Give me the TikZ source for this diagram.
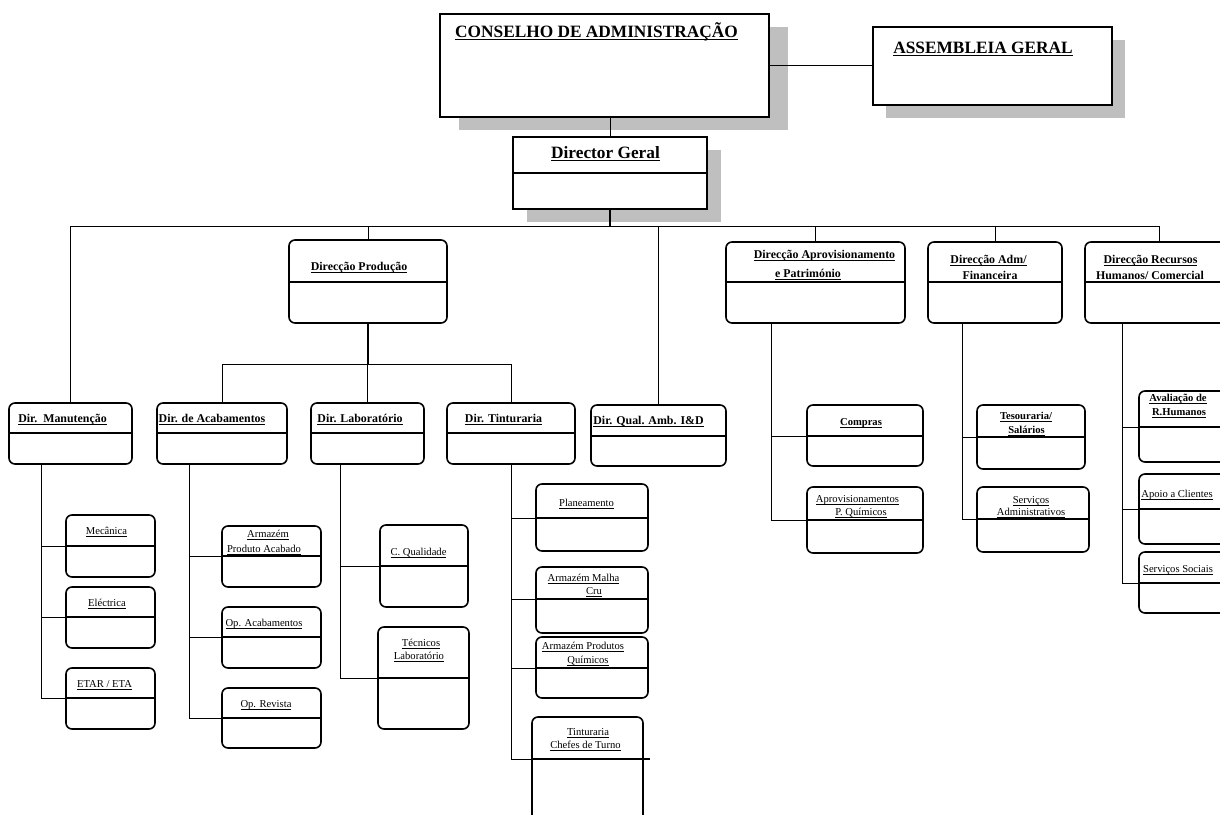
\documentclass[tikz,border=0pt]{standalone}
\usepackage{fontspec}
\setmainfont{Liberation Serif}
\newcommand\ulA[1]{\setbox0\hbox{#1}\leavevmode\rlap{\rule[-3.3pt]{\wd0}{1.8pt}}\box0}
\newcommand\ulB[1]{\setbox0\hbox{#1}\leavevmode\rlap{\rule[-2.8pt]{\wd0}{1.3pt}}\box0}
\newcommand\ulD[1]{\setbox0\hbox{#1}\leavevmode\rlap{\rule[-2.2pt]{\wd0}{0.7pt}}\box0}
\newcommand\topbox[7]{%
  \fill[shad] ({#2+#6},{#3+#7}) rectangle ({#4+#6},{#5+#7});
  \node[tbx, minimum width={(#4-#2)*1pt}, minimum height={(#5-#3)*1pt}] (#1) at ({(#2+#4)/2},{(#3+#5)/2}) {};}
\newcommand\rbox[7]{%
  \node[rbx, minimum width={(#4-#2)*1pt}, minimum height={(#5-#3)*1pt}] (#1) at ({(#2+#4)/2},{(#3+#5)/2}) {};
  \coordinate (#1-d) at (#2,#6);
  \coordinate (#1-e) at (#7,#6);
  \draw[divl] (#1-d) -- (#1-e);}
\newcommand\lb[5]{\node[lbl,#4] (#1) at (#2,#3) {#5};}
\begin{document}
\begin{tikzpicture}[x=1pt,y=-1pt,
  shad/.style={fill=black!25},
  tbx/.style={draw=black, line width=1.6pt, fill=white, inner sep=0pt, outer sep=0pt},
  rbx/.style={draw=black, line width=1.6pt, rounded corners=6pt, inner sep=0pt, outer sep=0pt},
  divl/.style={line width=1.6pt},
  cn/.style={line width=0.8pt},
  cnt/.style={line width=1.6pt},
  lbl/.style={anchor=base, inner sep=0pt, outer sep=0pt},
  fA/.style={font=\fontsize{17.3}{20}\selectfont\bfseries},
  fB/.style={font=\fontsize{11.9}{14}\selectfont\bfseries},
  fC/.style={font=\fontsize{10.6}{13}\selectfont\bfseries},
  fD/.style={font=\fontsize{10.6}{13}\selectfont}]
\useasboundingbox (0,0) rectangle (1220,814);
\clip (0,0) rectangle (1220,814);
\fill[white] (0,0) rectangle (1220,814);

% top boxes
\topbox{cons}{440}{14}{769}{117}{19}{13}
\topbox{asse}{873}{27}{1112}{105}{13}{13}
\topbox{dg}{513}{137}{707}{209}{14}{13}
\coordinate (dg-d) at (513,173);
\coordinate (dg-e) at (707,173);
\draw[divl] (dg-d) -- (dg-e);

% level 1
\rbox{prod}{289}{240}{447}{323}{282}{447}
\rbox{aprov}{726}{242}{905}{323}{282}{905}
\rbox{adm}{928}{242}{1062}{323}{282}{1062}
\rbox{rh}{1085}{242}{1233}{323}{282}{1233}
% level 2
\rbox{manut}{9}{403}{132}{464}{433}{132}
\rbox{acab}{157}{403}{287}{464}{433}{287}
\rbox{lab}{311}{403}{424}{464}{433}{424}
\rbox{tint}{447}{403}{575}{464}{433}{575}
\rbox{qual}{591}{405}{726}{466}{436}{726}
\rbox{compras}{807}{405}{923}{466}{436}{923}
\rbox{aprovq}{807}{487}{923}{553}{520}{923}
\rbox{tes}{977}{405}{1085}{469}{437}{1085}
\rbox{servadm}{977}{487}{1089}{552}{519}{1089}
\rbox{aval}{1139}{391}{1240}{462}{427}{1240}
\rbox{apoio}{1139}{474}{1240}{544}{509}{1240}
\rbox{soc}{1139}{552}{1240}{613}{583}{1240}
% level 3
\rbox{mec}{66}{515}{155}{577}{546}{155}
\rbox{elec}{66}{587}{155}{648}{617}{155}
\rbox{etar}{66}{668}{155}{729}{698}{155}
\rbox{armpa}{222}{526}{321}{587}{556}{321}
\rbox{opac}{222}{607}{321}{668}{637}{321}
\rbox{oprev}{222}{688}{321}{748}{718}{321}
\rbox{cq}{380}{525}{468}{607}{566}{468}
\rbox{tec}{378}{627}{469}{729}{678}{469}
\rbox{plan}{536}{484}{648}{551}{518}{648}
\rbox{amc}{536}{567}{648}{633}{599}{648}
\rbox{apq}{536}{637}{648}{698}{668}{648}
\rbox{tcht}{532}{717}{643}{840}{759}{650}

% connectors
\coordinate (bus) at (0,226);
\coordinate (pbus) at (0,364);
\draw[cn] (cons.east) -- (asse.west |- cons.east);
\draw[cn] (dg.north) -- (dg.north |- cons.south);
\draw[cnt] (dg.south) -- (dg.south |- bus);
\draw[cn] (manut.north) |- (rh.north |- bus) -- (rh.north);
\foreach \n in {prod,qual,aprov,adm} \draw[cn] (\n.north) -- (\n.north |- bus);
\draw[cnt] (prod.south) -- (prod.south |- pbus);
\draw[cn] (acab.north) |- (tint.north |- pbus) -- (tint.north);
\draw[cn] (lab.north) -- (lab.north |- pbus);

\coordinate (vman) at (41,0);
\draw[cn] (manut.south -| vman) |- (etar-d);
\draw[cn] (vman |- mec-d) -- (mec-d);
\draw[cn] (vman |- elec-d) -- (elec-d);
\coordinate (vac) at (189,0);
\draw[cn] (acab.south -| vac) |- (oprev-d);
\draw[cn] (vac |- armpa-d) -- (armpa-d);
\draw[cn] (vac |- opac-d) -- (opac-d);
\coordinate (vlab) at (340,0);
\draw[cn] (lab.south -| vlab) |- (tec-d);
\draw[cn] (vlab |- cq-d) -- (cq-d);
\draw[cn] (tint.south) |- (tcht-d);
\draw[cn] (tint.south |- plan-d) -- (plan-d);
\draw[cn] (tint.south |- amc-d) -- (amc-d);
\draw[cn] (tint.south |- apq-d) -- (apq-d);
\coordinate (vapr) at (771,0);
\draw[cn] (aprov.south -| vapr) |- (aprovq-d);
\draw[cn] (vapr |- compras-d) -- (compras-d);
\coordinate (vadm) at (962,0);
\draw[cn] (adm.south -| vadm) |- (servadm-d);
\draw[cn] (vadm |- tes-d) -- (tes-d);
\coordinate (vrh) at (1122,0);
\draw[cn] (rh.south -| vrh) |- (soc-d);
\draw[cn] (vrh |- aval-d) -- (aval-d);
\draw[cn] (vrh |- apoio-d) -- (apoio-d);

% labels
\lb{tCons}{596.5}{37}{fA}{\ulA{CONSELHO DE ADMINISTRAÇÃO}}
\lb{tAsse}{983}{53}{fA}{\ulA{ASSEMBLEIA GERAL}}
\lb{tDg}{605.5}{158}{fA}{\ulA{Director Geral}}
\lb{tProd}{359}{270}{fB}{\ulB{Direcção Produção}}
\lb{tAprov1}{824.5}{258}{fB}{\ulB{Direcção Aprovisionamento}}
\lb{tAprov2}{808}{277}{fB}{\ulB{e Património}}
\lb{tAdm1}{988.5}{263}{fB}{\ulB{Direcção Adm/}}
\lb{tAdm2}{990}{279}{fB}{\ulB{Financeira}}
\lb{tRh1}{1150.5}{263}{fB}{\ulB{Direcção Recursos}}
\lb{tRh2}{1150}{279}{fB}{\ulB{Humanos/ Comercial}}
\lb{tManut}{62.5}{422}{fB}{\ulB{Dir.\ \ Manutenção}}
\lb{tAcab}{212}{422}{fB}{\ulB{Dir. de Acabamentos}}
\lb{tLab}{360}{422}{fB}{\ulB{Dir. Laboratório}}
\lb{tTint}{503.5}{422}{fB}{\ulB{Dir. Tinturaria}}
\lb{tQual}{648.5}{424}{fB}{\ulB{Dir. Qual. Amb. I\&D}}
\lb{tCompras}{861}{425}{fC}{\ulB{Compras}}
\lb{tAprovq1}{857.5}{502}{fD}{\ulD{Aprovisionamentos}}
\lb{tAprovq2}{861}{515}{fD}{\ulD{P. Químicos}}
\lb{tTes1}{1026}{419}{fC}{\ulB{Tesouraria/}}
\lb{tTes2}{1026.5}{433}{fC}{\ulB{Salários}}
\lb{tServ1}{1031}{503}{fD}{\ulD{Serviços}}
\lb{tServ2}{1031}{515}{fD}{\ulD{Administrativos}}
\lb{tAval1}{1178}{401}{fC}{\ulB{Avaliação de}}
\lb{tAval2}{1179}{415}{fC}{\ulB{R.Humanos}}
\lb{tApoio}{1177}{497}{fD}{\ulD{Apoio a Clientes}}
\lb{tSoc}{1178}{572}{fD}{\ulD{Serviços Sociais}}
\lb{tMec}{106.5}{534}{fD}{\ulD{Mecânica}}
\lb{tElec}{107}{606}{fD}{\ulD{Eléctrica}}
\lb{tEtar}{104.5}{687}{fD}{\ulD{ETAR / ETA}}
\lb{tArmpa1}{268}{537}{fD}{\ulD{Armazém}}
\lb{tArmpa2}{264}{552}{fD}{\ulD{Produto Acabado}}
\lb{tOpac}{264}{626}{fD}{\ulD{Op. Acabamentos}}
\lb{tOprev}{266}{707}{fD}{\ulD{Op. Revista}}
\lb{tCq}{418.5}{555}{fD}{\ulD{C. Qualidade}}
\lb{tTec1}{421}{646}{fD}{\ulD{Técnicos}}
\lb{tTec2}{419}{659}{fD}{\ulD{Laboratório}}
\lb{tPlan}{586.5}{506}{fD}{\ulD{Planeamento}}
\lb{tAmc1}{583.5}{581}{fD}{\ulD{Armazém Malha}}
\lb{tAmc2}{594}{594}{fD}{\ulD{Cru}}
\lb{tApq1}{583}{649}{fD}{\ulD{Armazém Produtos}}
\lb{tApq2}{588}{663}{fD}{\ulD{Químicos}}
\lb{tTcht1}{588}{735}{fD}{\ulD{Tinturaria}}
\lb{tTcht2}{585.5}{748}{fD}{\ulD{Chefes de Turno}}
\end{tikzpicture}
\end{document}
